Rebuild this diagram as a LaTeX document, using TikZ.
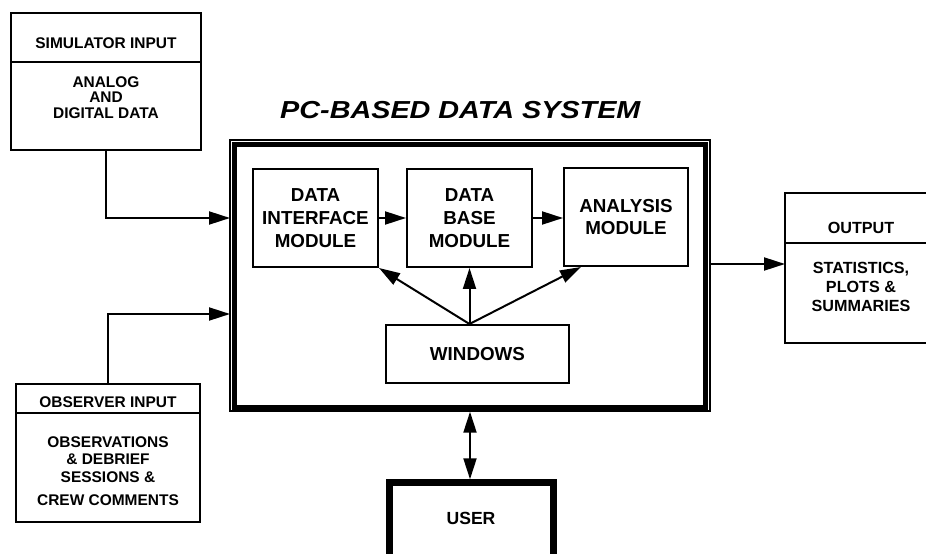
\documentclass[tikz,border=0pt]{standalone}
\usepackage{fontspec}
\setmainfont{Liberation Sans}
\newfontfamily\titlefont[FakeStretch=1.17]{Liberation Sans}
\usetikzlibrary{arrows.meta, positioning}

\tikzset{
  box/.style={draw, line width=0.04cm, inner sep=0pt},
  frame/.style={draw, line width=0.03cm, inner sep=0pt},
  smalltxt/.style={font=\fontsize{8.8}{9.96}\selectfont\bfseries, align=center},
  outtxt/.style={font=\fontsize{9.2}{10.8}\selectfont\bfseries, align=center},
  modtxt/.style={font=\fontsize{10.7}{13}\selectfont\bfseries, align=center},
  link/.style={line width=0.04cm, ->},
}

\begin{document}
\begin{tikzpicture}[x=0.02cm, y=-0.02cm, >={Triangle[length=0.42cm,width=0.26cm]}]
  \clip (0,0) rectangle (926,554);

  % simulator input
  \node[box, minimum width=3.8cm, minimum height=0.98cm] (simhead) at (106,37.5) {};
  \node[box, minimum width=3.8cm, minimum height=1.76cm] (simbody) at (106,106) {};
  \node[smalltxt] (simtitle) at (106,43) {SIMULATOR INPUT};
  \node[smalltxt, font=\fontsize{8.8}{8.8}\selectfont\bfseries] (simdata) at (106,97.5) {ANALOG\\AND\\DIGITAL DATA};

  % observer input
  \node[box, minimum width=3.68cm, minimum height=0.58cm] (obshead) at (108,398.5) {};
  \node[box, minimum width=3.68cm, minimum height=2.18cm] (obsbody) at (108,467.5) {};
  \node[smalltxt] (obstitle) at (108,402) {OBSERVER INPUT};
  \node[smalltxt] (obsdata) at (108,471) {OBSERVATIONS\\\& DEBRIEF\\SESSIONS \&\\[3pt]CREW COMMENTS};

  % the PC-based data system (double frame)
  \node[frame, minimum width=9.6cm, minimum height=5.42cm] (pcsys) at (470,275.5) {};
  \draw[line width=0.09cm] ([shift={(5,5)}]pcsys.north west) rectangle ([shift={(-5,-4)}]pcsys.south east);
  \node[font=\fontsize{14}{16}\titlefont\bfseries\itshape, anchor=west] (systitle) at (274,110) {PC-BASED DATA SYSTEM};

  % modules
  \node[box, modtxt, minimum width=2.5cm, minimum height=1.96cm] (dim) at (315.5,218) {DATA\\INTERFACE\\MODULE};
  \node[box, modtxt, minimum width=2.5cm, minimum height=1.96cm] (dbm) at (469.5,218) {DATA\\BASE\\MODULE};
  \node[box, modtxt, minimum width=2.48cm, minimum height=1.96cm] (anm) at (626,217) {ANALYSIS\\MODULE};
  \node[box, modtxt, minimum width=3.66cm, minimum height=1.16cm] (win) at (477.5,354) {WINDOWS};

  \draw[link] (dim.east) -- (dbm.west);
  \draw[link] (dbm.east) -- (anm.west |- dbm.east);
  \draw[link] (dbm.south |- win.north) -- (dim.south east);
  \draw[link] (dbm.south |- win.north) -- (dbm.south);
  \draw[link] (dbm.south |- win.north) -- ([xshift=0.36cm]anm.south west);

  % output
  \node[box, minimum width=3.04cm, minimum height=1cm] (outhead) at (861,218) {};
  \node[box, minimum width=3.04cm, minimum height=2cm] (outbody) at (861,293) {};
  \node[outtxt] (outtitle) at (861,228) {OUTPUT};
  \node[outtxt] (outdata) at (861,287) {STATISTICS,\\PLOTS \&\\SUMMARIES};

  % user
  \node[frame, minimum width=3.38cm, minimum height=2.4cm] (user) at (471.5,540) {};
  \draw[line width=0.09cm] ([shift={(4,4)}]user.north west) rectangle ([shift={(-4,-4)}]user.south east);
  \node[modtxt, font=\fontsize{10}{12}\selectfont\bfseries] (usertxt) at (471,518) {USER};

  % inputs and outputs
  \coordinate (simin) at (230,218);
  \coordinate (obsin) at (230,314);
  \coordinate (outin) at (785,264);
  \draw[link] (simbody.south) |- (simin);
  \draw[link] (obshead.north) |- (obsin);
  \draw[link] (outin -| pcsys.east) -- (outin);
  \draw[link, <->] (pcsys.south) -- (pcsys.south |- user.north);
\end{tikzpicture}
\end{document}
